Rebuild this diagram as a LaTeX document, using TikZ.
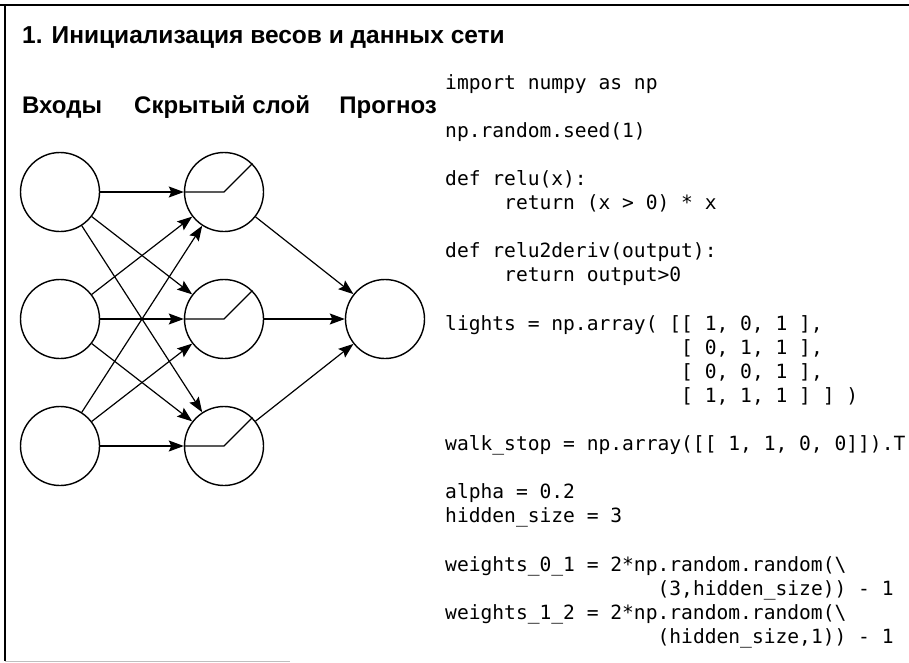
\documentclass[tikz,border=0pt]{standalone}
\usepackage{fontspec}
\setmainfont{Liberation Sans}
\newfontfamily\codefont{DejaVu Sans Mono}
\usetikzlibrary{arrows.meta, positioning}
\tikzset{
  neuron/.style  = {circle, draw, line width=1.4pt, minimum size=79pt, inner sep=0pt},
  conn/.style    = {-{Stealth[length=15pt, width=11pt, inset=2.5pt]}, line width=1.2pt},
  relu/.style    = {line width=1.2pt},
  hdr/.style     = {anchor=base west, inner sep=0pt, font=\bfseries\fontsize{24}{28}\selectfont},
  codeblk/.style = {anchor=north west, align=left, inner sep=0pt,
                    font=\codefont\fontsize{19.6}{24.1}\selectfont},
  frameline/.style = {line width=2pt},
}

\begin{document}
\begin{tikzpicture}[x=1pt, y=-1pt]
  \useasboundingbox (0,0) rectangle (909,662);
  % frame
  \draw[frameline] (0,5) -- (909,5);
  \draw[frameline] (5,5) -- (5,661);
  \draw[black!25, line width=1pt] (5,661) -- (290,661);

  % title and column heads
  \node[hdr, font=\bfseries\fontsize{24.5}{28}\selectfont]
    (title) at (22,43) {1. Инициализация весов и данных сети};
  \node[hdr] (hin)   at (22,113) {Входы};
  \node[hdr] (hhid)  at (134,113) {Скрытый слой};
  \node[hdr, anchor=base east] (hout) at (437,113) {Прогноз};

  % neurons
  \node[neuron] (in1)  at (60,192) {};
  \node[neuron] (in2)  at (60,319) {};
  \node[neuron] (in3)  at (60,446) {};
  \node[neuron] (hid1) at (224,192) {};
  \node[neuron] (hid2) at (224,319) {};
  \node[neuron] (hid3) at (224,446) {};
  \node[neuron] (out)  at (385,319) {};

  \draw[relu] (hid1.west) -- (hid1.center) -- (hid1.45);
  \draw[relu] (hid2.west) -- (hid2.center) -- (hid2.45);
  \draw[relu] (hid3.west) -- (hid3.center) -- (hid3.45);

  % weights
  \draw[conn] (in1) -- (hid1);
  \draw[conn] (in1) -- (hid2);
  \draw[conn] (in1) -- (hid3);
  \draw[conn] (in2) -- (hid1);
  \draw[conn] (in2) -- (hid2);
  \draw[conn] (in2) -- (hid3);
  \draw[conn] (in3) -- (hid1);
  \draw[conn] (in3) -- (hid2);
  \draw[conn] (in3) -- (hid3);
  \draw[conn] (hid1) -- (out);
  \draw[conn] (hid2) -- (out);
  \draw[conn] (hid3) -- (out);

  % code
  \node[codeblk] (code) at (445,74) {%
    import numpy as np\\[24.1pt]
    np.random.seed(1)\\[24.1pt]
    def relu(x):\\
    \hphantom{00000}return (x > 0) * x\\[24.1pt]
    def relu2deriv(output):\\
    \hphantom{00000}return output>0\\[24.1pt]
    lights = np.array( [[ 1, 0, 1 ],\\
    \hphantom{00000000000000000000}[ 0, 1, 1 ],\\
    \hphantom{00000000000000000000}[ 0, 0, 1 ],\\
    \hphantom{00000000000000000000}[ 1, 1, 1 ] ] )\\[24.1pt]
    walk\_stop = np.array([[ 1, 1, 0, 0]]).T\\[24.1pt]
    alpha = 0.2\\
    hidden\_size = 3\\[24.1pt]
    weights\_0\_1 = 2*np.random.random(\textbackslash\\
    \hphantom{000000000000000000}(3,hidden\_size)) - 1\\
    weights\_1\_2 = 2*np.random.random(\textbackslash\\
    \hphantom{000000000000000000}(hidden\_size,1)) - 1};
\end{tikzpicture}
\end{document}
